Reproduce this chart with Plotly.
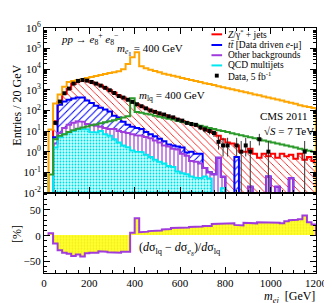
import plotly.graph_objects as go

# ---------------- data (entries per 20 GeV bin, bins 20-1200 GeV) ----------------
bin_centers = [30 + 20 * i for i in range(59)]
BIN_W = 20

# stacked totals as drawn (Z+jets on top of everything)
zjets_stack = [None, 30, 260, 640, 1100, 1900, 2600, 2900, 2750, 2350,
               1950, 1600, 1250, 960, 720, 530, 420, 330, 255, 200,
               160, 125, 100, 84, 70, 60, 50, 44, 36, 31,
               26, 22, 19, 16, 13, 10, 8, 6, 4, 2.8,
               2.5, 2.0, 1.0, 1.0, 1.4, 0.8, 0.5, 0.8, 0.6, 0.8,
               0.5, 0.8, 0.6, 0.7, 0.45, 0.8, 0.4, 0.55, 0.35]
ttbar_stack = [None, 5, 190, 270, 330, 380, 420, 420, 300, 230,
               170, 135, 112, 90, 56, 45, 28, 20, 16, 14,
               12.5, 9, 7, 5.6, 4.2, 3.2, 2.2, 2.0, 1.8, 1.6,
               0.9, 1.0, 0.8, 0.8, 0.16, 0.1, 0.08, 0.5, 0.06, None,
               None, 0.55, None, None, 0.02, None, None, None, 0.063, None,
               0.02, None, None, 0.052, None, None, None, None, None]
other_stack = [None, 2.5, 8, 14, 20, 25, 30, 28, 22, 20,
               18, 16, 14, 12.6, 12.6, 10, 9, 8, 7, 6.3,
               6.0, 5.2, 4.5, 3.5, 2.8, 2.0, 1.8, 1.4, 1.26, 0.8,
               0.63, 0.35, 0.32, 0.27, 0.16, 0.1, 0.08, 0.5, 0.06, None,
               None, None, None, None, 0.02, None, None, None, 0.063, None,
               0.02, None, None, 0.052, None, None, None, None, None]
qcd = [None, 1.6, 5, 7, 8.5, 10, 12.3, 11.7, 12.3, 9,
       8.5, 10, 7, 6, 4, 2.8, 2.0, 1.66, 1.15, 1.0,
       0.95, 0.7, 0.55, 0.4, 0.32, 0.27, 0.2, 0.18, 0.11, 0.09,
       0.08, 0.063, 0.056, 0.052, 0.063, 0.05, None, None, 0.017, None,
       None, None, None, None, None, None, None, None, None, None,
       None, None, None, None, None, None, None, None, None]
lq_400 = [0.078, 4, 5.9, 7, 9, 11, 13, 15, 16.6, 19,
          21, 24, 27, 30, 33, 38, 45, 52, 390, 85,
          78, 70, 63, 56, 50, 44, 40, 36, 32, 28,
          25, 22.5, 20, 18, 16, 14, 12.5, 11, 10, 9,
          7.9, 7, 6.3, 5.6, 5, 4.5, 4, 3.5, 3.1, 2.8,
          2.5, 2.2, 2.0, 1.8, 1.6, 1.4, 1.25, 1.1, 1.0]
e8_400 = [12, 220, 600, 1400, 2400, 2700, 3000, 3300, 3700, 4200,
          4700, 5200, 5800, 6500, 7200, 8000, 10000, 17800, 38000, 66000,
          14000, 11200, 9500, 8300, 7100, 6000, 5400, 4800, 4300, 3800,
          3400, 3000, 2700, 2400, 2100, 1900, 1700, 1500, 1350, 1200,
          1070, 950, 850, 760, 680, 600, 540, 480, 430, 380,
          340, 300, 265, 235, 210, 180, 160, 145, 130]
data_counts = [None, 25, 270, 680, 1150, 2000, 2700, 3000, 2800, 2400,
               2000, 1600, 1250, 950, 700, 500, 420, 330, 260, 200,
               160, 126, 100, 85, 72, 63, 52, 46, 36, 32,
               25, 22, 20, 15, 12, 10, 8, 3, 2, 2,
               None, 2, 1, 2, 1, None, 4, None, 1, None,
               None, None, None, None, None, None, 1, None, None]
ratio_pct = [5, -15, -28, -33, -35, -39, -36, -40, -34, -33,
             -33, -30, -31, -32, -32, -33, -31, -31, 6, 34,
             7, 8, 9, 9, 10, 12, 13, 15, 15, 16,
             16, 17, 17, 18, 19, 19, 23, 24, 23, 23,
             24, 21, 20, 25, 24, 24, 26, 26, 26, 25,
             25, 24, 28, 30, 31, 32, 39, 26, 22]

top_ticks = [-2, -1, 0, 1, 2, 3, 4, 5, 6]
x_ticks = [0, 200, 400, 600, 800, 1000, 1200]

# ---------------- styling ----------------
FONT = "Liberation Serif"
RED, BLUE, PURPLE, CYAN = "#ff0000", "#0000ff", "#a03cdc", "#00e8f0"
ORANGE, GREEN = "#ffa500", "#2a9a2a"
LOGFLOOR = 1e-4


def step_xy(vals, floor):
    xs, ys = [], []
    for c, v in zip(bin_centers, vals):
        vv = floor if v is None else v
        xs += [c - BIN_W / 2, c + BIN_W / 2]
        ys += [vv, vv]
    return [xs[0]] + xs + [xs[-1]], [floor] + ys + [floor]


fig = go.Figure()

# hatched stacked histograms (drawn back to front)
hists = [
    (zjets_stack, RED, "\\", "white", 5, 0.16),
    (ttbar_stack, BLUE, "/", "white", 5, 0.2),
    (other_stack, PURPLE, "|", "white", 4, 0.3),
    (qcd, "#00d8e0", ".", "#c0ffff", 3, 0.3),
]
for vals, col, shape, bg, size, sol in hists:
    fig.add_trace(go.Bar(
        x=bin_centers, y=vals, width=BIN_W, xaxis="x", yaxis="y",
        marker=dict(color=bg, line=dict(width=0),
                    pattern=dict(shape=shape, fgcolor=col, bgcolor=bg,
                                 size=size, solidity=sol, fillmode="replace")),
        opacity=1, showlegend=False, hoverinfo="skip"))

for vals, col in [(zjets_stack, RED), (ttbar_stack, BLUE),
                  (other_stack, PURPLE), (qcd, CYAN)]:
    sx, sy = step_xy(vals, LOGFLOOR)
    fig.add_trace(go.Scatter(x=sx, y=sy, mode="lines", xaxis="x", yaxis="y",
                             line=dict(color=col, width=2),
                             showlegend=False, hoverinfo="skip"))

for vals, col in [(lq_400, GREEN), (e8_400, ORANGE)]:
    sx, sy = step_xy(vals, LOGFLOOR)
    fig.add_trace(go.Scatter(x=sx, y=sy, mode="lines", xaxis="x", yaxis="y",
                             line=dict(color=col, width=2),
                             showlegend=False, hoverinfo="skip"))

# data points with Poisson-like error bars
dx, dy, eup, edn = [], [], [], []
for c, n in zip(bin_centers, data_counts):
    if n is None:
        continue
    s = n ** 0.5
    dx.append(c)
    dy.append(n)
    eup.append(s + (1.3 if n < 5 else 0))
    edn.append(n - max(n - s, 0.011))
fig.add_trace(go.Scatter(
    x=dx, y=dy, mode="markers", xaxis="x", yaxis="y",
    marker=dict(symbol="square", size=4, color="black"),
    error_y=dict(type="data", array=eup, arrayminus=edn, symmetric=False,
                 color="#333333", thickness=1, width=0),
    showlegend=False, hoverinfo="skip"))

# ratio panel
fig.add_trace(go.Bar(
    x=bin_centers, y=ratio_pct, width=BIN_W, xaxis="x2", yaxis="y2",
    marker=dict(color="#ffff30", line=dict(width=0),
                pattern=dict(shape=".", fgcolor="#e6d800", bgcolor="#ffff30",
                             size=3, solidity=0.3)),
    showlegend=False, hoverinfo="skip"))
rx, ry = step_xy(ratio_pct, 0)
fig.add_trace(go.Scatter(x=rx, y=ry, mode="lines", xaxis="x2", yaxis="y2",
                         line=dict(color=PURPLE, width=2),
                         showlegend=False, hoverinfo="skip"))

# ---------------- axes ----------------
axis_common = dict(showline=True, linecolor="black", linewidth=1, mirror="allticks",
                   ticks="inside", tickcolor="black", showgrid=False, zeroline=False,
                   tickfont=dict(family=FONT, size=11, color="black"))
minor_log = [m * 10 ** k for k in range(-2, 6) for m in range(2, 10)]

fig.update_layout(
    width=332, height=303,
    margin=dict(l=36, r=15, t=13, b=38),
    paper_bgcolor="white", plot_bgcolor="white",
    barmode="overlay", bargap=0,
    showlegend=False,
    xaxis=dict(domain=[0, 1], anchor="y", range=[0, 1200], tickvals=x_ticks,
               ticklen=6, showticklabels=False,
               minor=dict(dtick=50, tick0=0, ticks="inside", ticklen=3, tickcolor="black"),
               **axis_common),
    yaxis=dict(domain=[0.327, 1], anchor="x", type="log", range=[-2, 6],
               tickvals=[10 ** k for k in top_ticks],
               ticktext=["10<sup>%d</sup>" % k for k in top_ticks],
               ticklen=6,
               minor=dict(tickvals=minor_log, ticks="inside", ticklen=3, tickcolor="black"),
               **axis_common),
    xaxis2=dict(domain=[0, 1], anchor="y2", range=[0, 1200], tickvals=x_ticks,
                ticklen=6, matches="x", ticklabelstandoff=0,
                minor=dict(dtick=50, tick0=0, ticks="inside", ticklen=3, tickcolor="black"),
                **axis_common),
    yaxis2=dict(domain=[0, 0.325], anchor="x2", range=[-72, 82],
                tickvals=[-50, 0, 50], ticklen=6,
                minor=dict(dtick=10, tick0=0, ticks="inside", ticklen=3, tickcolor="black"),
                **axis_common),
)

# ---------------- text ----------------
def px_x(px):
    return (px - 36) / 281.0


def px_y(py):
    return (265 - py) / 252.0


def note(text, px, py, size=11, xanchor="left", angle=0):
    fig.add_annotation(text=text, x=px_x(px), y=px_y(py), xref="paper", yref="paper",
                       xanchor=xanchor, yanchor="middle", showarrow=False, textangle=angle,
                       font=dict(family=FONT, size=size, color="black"))


note("<i>pp</i> → <i>e</i><sub>8</sub><sup>+</sup> <i>e</i><sub>8</sub><sup>−</sup>", 51, 24, 11)
note("<i>m</i><sub><i>e</i>₈</sub> = 400 GeV", 109, 35, 11)
note("<i>m</i><sub>lq</sub> = 400 GeV", 132, 83, 11)
note("CMS 2011", 257, 104, 11)
note("√<i>S</i> = 7 TeV", 261, 119, 11)
note("(<i>d</i>σ<sub>lq</sub> − <i>d</i>σ<sub><i>e</i>₈</sub>)/<i>d</i>σ<sub>lq</sub>", 132, 239, 12)
note("<i>m</i><sub><i>ej</i></sub>  [GeV]", 318, 290, 12, xanchor="right")
note("Entries / 20 GeV", 8, 92, 12, xanchor="center", angle=-90)
note("[%]", 8, 225, 12, xanchor="center", angle=-90)

# legend (manual, compact)
legend_rows = [
    ("<i>Z</i>/γ<sup>*</sup> + jets", RED, 19.5),
    ("<i>tt̄</i> [Data driven <i>e</i>-μ]", BLUE, 30.5),
    ("Other backgrounds", PURPLE, 41),
    ("QCD multijets", CYAN, 51.5),
]
for txt, col, py in legend_rows:
    fig.add_shape(type="line", xref="paper", yref="paper",
                  x0=px_x(209), x1=px_x(220), y0=px_y(py), y1=px_y(py),
                  line=dict(color=col, width=2))
    note(txt, 224, py, 9.5)
fig.add_shape(type="rect", xref="paper", yref="paper",
              x0=px_x(212.5), x1=px_x(216.5), y0=px_y(64), y1=px_y(60),
              fillcolor="black", line=dict(width=0))
note("Data, 5 fb<sup>-1</sup>", 224, 62, 9.5)

fig.write_html("out.html")
